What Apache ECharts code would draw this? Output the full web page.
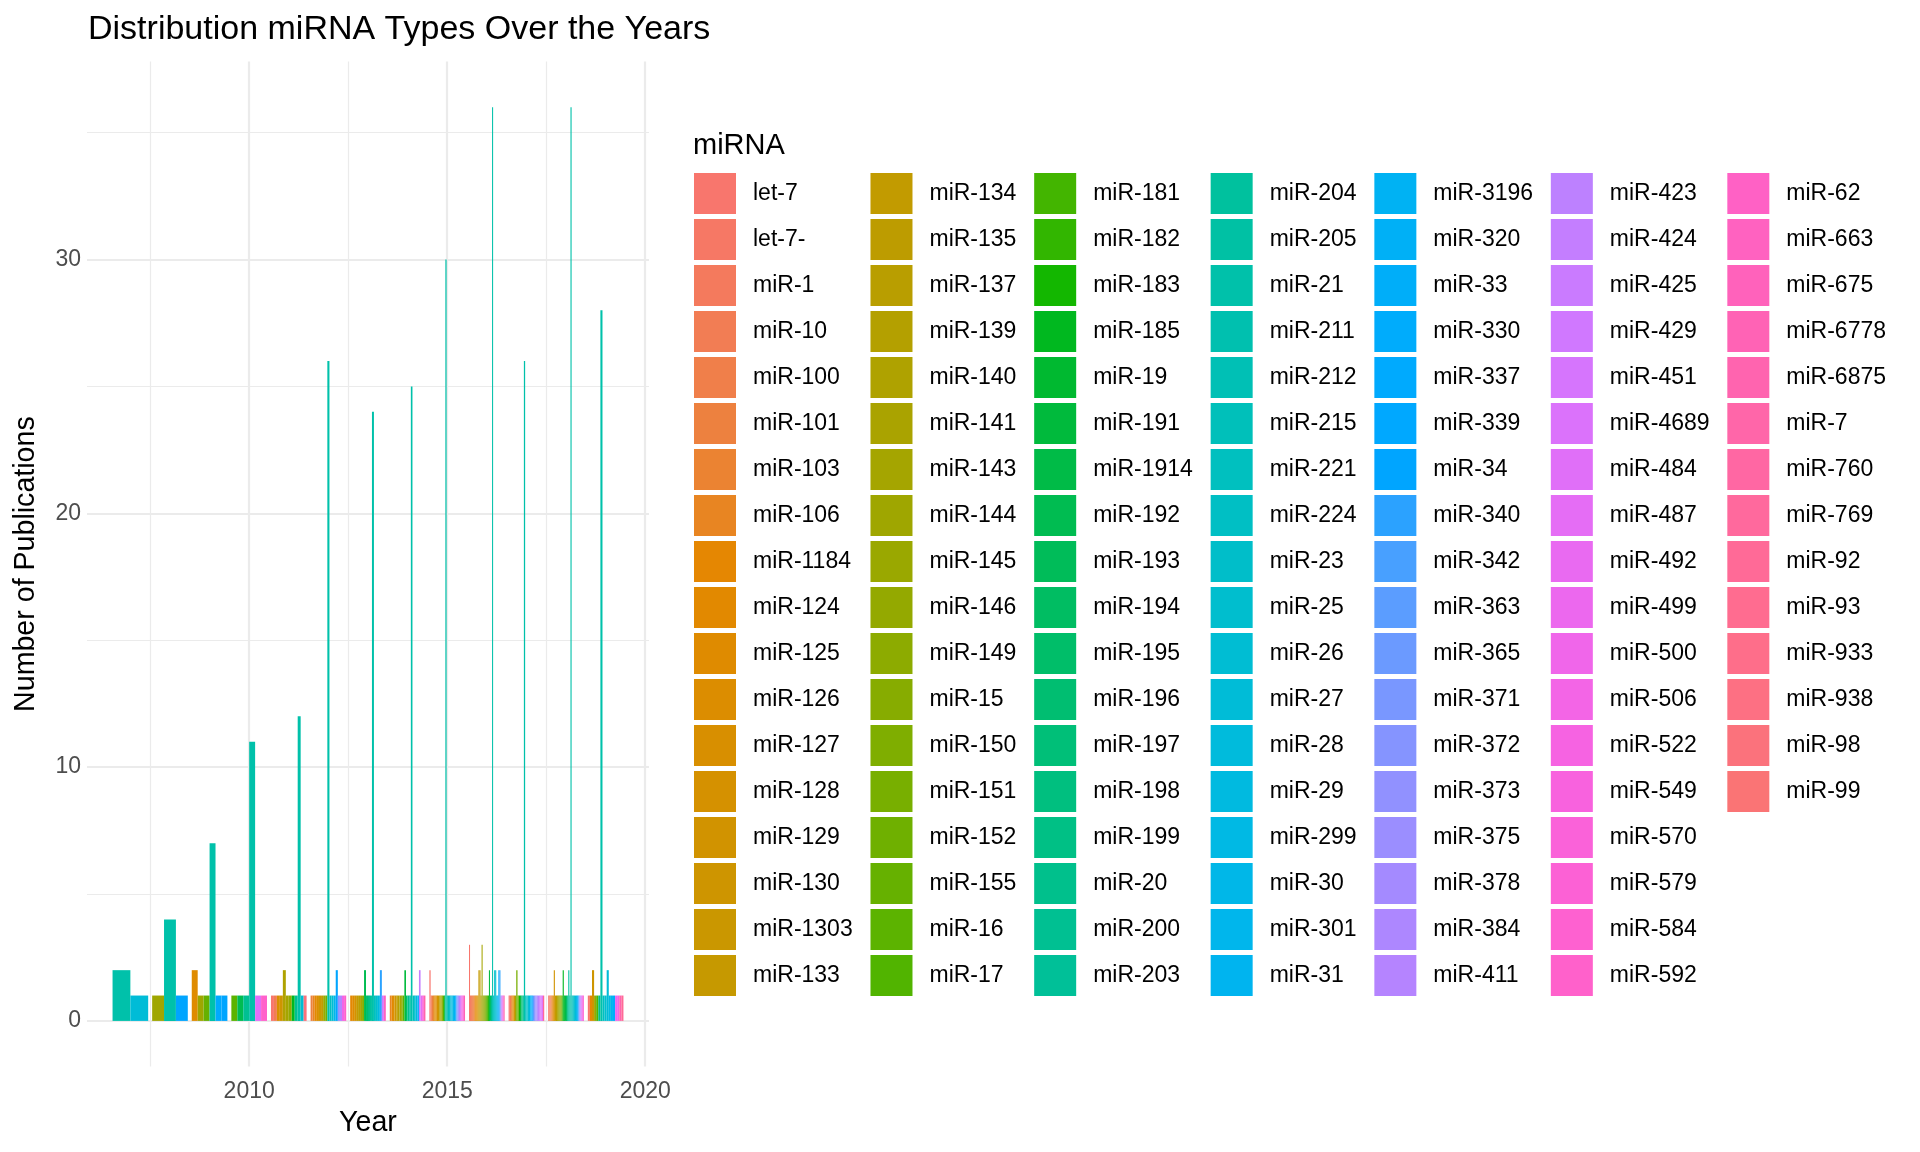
<!DOCTYPE html>
<html>
<head>
<meta charset="utf-8">
<script src="https://cdn.jsdelivr.net/npm/echarts@6/dist/echarts.min.js"></script>
<style>
  body { margin: 0; background: #fff; }
  #chart { width: 1920px; height: 1152px; }
</style>
</head>
<body>
<div id="chart"></div>
<script>
// miRNA levels, in legend order
var levels = [
  'let-7', 'let-7-', 'miR-1', 'miR-10', 'miR-100', 'miR-101', 'miR-103', 'miR-106', 'miR-1184', 'miR-124',
  'miR-125', 'miR-126', 'miR-127', 'miR-128', 'miR-129', 'miR-130', 'miR-1303', 'miR-133',
  'miR-134', 'miR-135', 'miR-137', 'miR-139', 'miR-140', 'miR-141', 'miR-143', 'miR-144', 'miR-145',
  'miR-146', 'miR-149', 'miR-15', 'miR-150', 'miR-151', 'miR-152', 'miR-155', 'miR-16', 'miR-17',
  'miR-181', 'miR-182', 'miR-183', 'miR-185', 'miR-19', 'miR-191', 'miR-1914', 'miR-192', 'miR-193',
  'miR-194', 'miR-195', 'miR-196', 'miR-197', 'miR-198', 'miR-199', 'miR-20', 'miR-200', 'miR-203',
  'miR-204', 'miR-205', 'miR-21', 'miR-211', 'miR-212', 'miR-215', 'miR-221', 'miR-224', 'miR-23',
  'miR-25', 'miR-26', 'miR-27', 'miR-28', 'miR-29', 'miR-299', 'miR-30', 'miR-301', 'miR-31',
  'miR-3196', 'miR-320', 'miR-33', 'miR-330', 'miR-337', 'miR-339', 'miR-34', 'miR-340', 'miR-342',
  'miR-363', 'miR-365', 'miR-371', 'miR-372', 'miR-373', 'miR-375', 'miR-378', 'miR-384', 'miR-411',
  'miR-423', 'miR-424', 'miR-425', 'miR-429', 'miR-451', 'miR-4689', 'miR-484', 'miR-487', 'miR-492',
  'miR-499', 'miR-500', 'miR-506', 'miR-522', 'miR-549', 'miR-570', 'miR-579', 'miR-584', 'miR-592',
  'miR-62', 'miR-663', 'miR-675', 'miR-6778', 'miR-6875', 'miR-7', 'miR-760', 'miR-769', 'miR-92',
  'miR-93', 'miR-933', 'miR-938', 'miR-98', 'miR-99'
];

var years = [2007, 2008, 2009, 2010, 2011, 2012, 2013, 2014, 2015, 2016, 2017, 2018, 2019];

// publications per miRNA, one list per year
var y2007 = [['miR-21', 2], ['miR-27', 1]];
var y2008 = [['miR-144', 1], ['miR-21', 4], ['miR-34', 1]];
var y2009 = [['miR-125', 2], ['miR-144', 1], ['miR-155', 1], ['miR-21', 7], ['miR-337', 1], ['miR-34', 1]];
var y2010 = [['miR-16', 1], ['miR-192', 1], ['miR-200', 1], ['miR-21', 11], ['miR-484', 1], ['miR-592', 1]];
var y2011 = [['let-7', 1], ['miR-10', 1], ['miR-127', 1], ['miR-130', 1], ['miR-140', 2], ['miR-143', 1],
  ['miR-146', 1], ['miR-185', 1], ['miR-200', 1], ['miR-21', 12], ['miR-26', 1], ['miR-98', 1]];
var y2012 = [['miR-101', 1], ['miR-106', 1], ['miR-124', 1], ['miR-127', 1], ['miR-1303', 1], ['miR-134', 1],
  ['miR-145', 1], ['miR-152', 1], ['miR-21', 26], ['miR-221', 1], ['miR-26', 1], ['miR-30', 1], ['miR-34', 2],
  ['miR-373', 1], ['miR-411', 1], ['miR-506', 1], ['miR-592', 1]];
var y2013 = [['miR-1184', 1], ['miR-125', 1], ['miR-128', 1], ['miR-133', 1], ['miR-137', 1], ['miR-143', 1],
  ['miR-15', 1], ['miR-192', 2], ['miR-196', 1], ['miR-199', 1], ['miR-204', 1], ['miR-21', 24], ['miR-221', 1],
  ['miR-25', 1], ['miR-29', 1], ['miR-340', 2], ['miR-429', 1], ['miR-663', 1]];
var y2014 = [['miR-106', 1], ['miR-1184', 1], ['miR-126', 1], ['miR-130', 1], ['miR-134', 1], ['miR-139', 1],
  ['miR-143', 1], ['miR-146', 1], ['miR-16', 1], ['miR-191', 2], ['miR-195', 1], ['miR-200', 1], ['miR-205', 1],
  ['miR-21', 25], ['miR-215', 1], ['miR-25', 1], ['miR-28', 1], ['miR-320', 1], ['miR-424', 2], ['miR-487', 1],
  ['miR-570', 1], ['miR-7', 1]];
var y2015 = [['let-7', 2], ['miR-10', 1], ['miR-101', 1], ['miR-106', 1], ['miR-124', 1], ['miR-126', 1],
  ['miR-128', 1], ['miR-1303', 1], ['miR-137', 1], ['miR-143', 1], ['miR-149', 1], ['miR-17', 1], ['miR-191', 1],
  ['miR-21', 30], ['miR-211', 1], ['miR-221', 1], ['miR-23', 1], ['miR-26', 1], ['miR-29', 1], ['miR-30', 1],
  ['miR-3196', 1], ['miR-33', 1], ['miR-365', 1], ['miR-375', 1], ['miR-423', 1], ['miR-451', 1], ['miR-500', 1],
  ['miR-579', 1], ['miR-6778', 1]];
var y2016 = [['let-7', 3], ['miR-1', 1], ['miR-10', 1], ['miR-100', 1], ['miR-101', 1], ['miR-106', 1],
  ['miR-124', 1], ['miR-125', 1], ['miR-128', 1], ['miR-133', 2], ['miR-134', 2], ['miR-139', 1], ['miR-143', 3],
  ['miR-145', 1], ['miR-149', 1], ['miR-150', 1], ['miR-155', 1], ['miR-17', 1], ['miR-183', 1], ['miR-191', 2],
  ['miR-195', 1], ['miR-200', 1], ['miR-21', 36], ['miR-221', 1], ['miR-23', 2], ['miR-26', 2], ['miR-29', 1],
  ['miR-31', 1], ['miR-33', 2], ['miR-340', 2], ['miR-373', 1], ['miR-451', 1], ['miR-506', 1], ['miR-7', 1]];
var y2017 = [['let-7', 1], ['miR-10', 1], ['miR-103', 1], ['miR-125', 1], ['miR-130', 1], ['miR-143', 1],
  ['miR-151', 2], ['miR-155', 1], ['miR-183', 1], ['miR-191', 1], ['miR-196', 1], ['miR-200', 1], ['miR-21', 26],
  ['miR-215', 1], ['miR-224', 1], ['miR-26', 1], ['miR-29', 1], ['miR-31', 1], ['miR-34', 1], ['miR-363', 1],
  ['miR-372', 1], ['miR-375', 1], ['miR-384', 1], ['miR-423', 1], ['miR-425', 1], ['miR-451', 1], ['miR-484', 1],
  ['miR-92', 1]];
var y2018 = [['let-7-', 1], ['miR-1', 1], ['miR-100', 1], ['miR-106', 1], ['miR-124', 1], ['miR-129', 2],
  ['miR-133', 1], ['miR-137', 1], ['miR-140', 1], ['miR-144', 1], ['miR-146', 1], ['miR-15', 1], ['miR-16', 1],
  ['miR-185', 2], ['miR-19', 1], ['miR-1914', 1], ['miR-194', 1], ['miR-199', 1], ['miR-204', 2], ['miR-205', 1],
  ['miR-21', 36], ['miR-212', 1], ['miR-224', 1], ['miR-25', 1], ['miR-28', 1], ['miR-30', 1], ['miR-320', 1],
  ['miR-342', 1], ['miR-378', 1], ['miR-429', 1], ['miR-499', 1], ['miR-584', 1]];
var y2019 = [['let-7', 1], ['miR-1184', 1], ['miR-130', 2], ['miR-146', 1], ['miR-17', 1], ['miR-199', 1],
  ['miR-21', 28], ['miR-221', 1], ['miR-25', 1], ['miR-27', 2], ['miR-29', 1], ['miR-31', 1], ['miR-33', 1],
  ['miR-492', 1], ['miR-522', 1], ['miR-6875', 1], ['miR-92', 1]];

var yearCounts = [y2007, y2008, y2009, y2010, y2011, y2012, y2013, y2014, y2015, y2016, y2017, y2018, y2019];

var xMajor = [2010, 2015, 2020];
var xMinor = [2007.5, 2012.5, 2017.5];
var yMajor = [0, 10, 20, 30];
var yMinor = [5, 15, 25, 35];

var FONT = '"Liberation Sans", Arial, sans-serif';

// ggplot2 default hue palette (hcl, c = 100, l = 65)
function hcl(h, c, l) {
  var hr = h * Math.PI / 180;
  var U = c * Math.cos(hr), V = c * Math.sin(hr);
  var Y = 100 * (l > 7.999592 ? Math.pow((l + 16) / 116, 3) : l / 903.3);
  var u = U / (13 * l) + 0.1978398;
  var v = V / (13 * l) + 0.4683363;
  var X = 9.0 * Y * u / (4 * v);
  var Z = -X / 3 - 5 * Y + 3 * Y / v;
  function g(t) {
    t = t > 0.00304 ? 1.055 * Math.pow(t, 1 / 2.4) - 0.055 : 12.92 * t;
    return Math.round(255 * Math.max(0, Math.min(1, t)));
  }
  var r = g((3.240479 * X - 1.537150 * Y - 0.498535 * Z) / 100);
  var gg = g((-0.969256 * X + 1.875992 * Y + 0.041556 * Z) / 100);
  var b = g((0.055648 * X - 0.204043 * Y + 1.057311 * Z) / 100);
  return 'rgb(' + r + ',' + gg + ',' + b + ')';
}

var colors = levels.map(function (n, i) {
  return hcl(15 + 360 * i / levels.length, 100, 65);
});

// dodge: each year's bars share 0.9 of a year, in level order
var seriesData = {};
levels.forEach(function (n) { seriesData[n] = []; });
years.forEach(function (yr, k) {
  var rows = yearCounts[k].slice().sort(function (a, b) {
    return levels.indexOf(a[0]) - levels.indexOf(b[0]);
  });
  rows.forEach(function (r, idx) {
    seriesData[r[0]].push([yr, r[1], idx, rows.length]);
  });
});

function renderBar(params, api) {
  var yr = api.value(0), val = api.value(1), idx = api.value(2), n = api.value(3);
  var w = 0.9 / n;
  var x0 = yr - 0.45 + idx * w;
  var p0 = api.coord([x0, val]);
  var p1 = api.coord([x0 + w, 0]);
  return {
    type: 'rect',
    shape: { x: p0[0], y: p0[1], width: p1[0] - p0[0], height: p1[1] - p0[1] },
    style: { fill: api.visual('color') }
  };
}

var series = levels.map(function (n, i) {
  return {
    name: n,
    type: 'custom',
    renderItem: renderBar,
    itemStyle: { color: colors[i] },
    encode: { x: 0, y: 1 },
    data: seriesData[n],
    z: 2
  };
});

var gridLines = [];
xMajor.forEach(function (v) { gridLines.push({ xAxis: v, lineStyle: { width: 2.2 } }); });
xMinor.forEach(function (v) { gridLines.push({ xAxis: v, lineStyle: { width: 1.2 } }); });
yMajor.forEach(function (v) { gridLines.push({ yAxis: v, lineStyle: { width: 2.2 } }); });
yMinor.forEach(function (v) { gridLines.push({ yAxis: v, lineStyle: { width: 1.2 } }); });

series.push({
  name: 'grid',
  type: 'line',
  data: [],
  silent: true,
  z: 0,
  markLine: {
    silent: true,
    symbol: 'none',
    z: 0,
    animation: false,
    label: { show: false },
    emphasis: { disabled: true },
    lineStyle: { color: '#EBEBEB', type: 'solid' },
    data: gridLines
  }
});

var chart = echarts.init(document.getElementById('chart'));
chart.setOption({
  animation: false,
  backgroundColor: '#fff',
  title: [{
    text: 'Distribution miRNA Types Over the Years',
    left: 88,
    top: 13,
    padding: 0,
    textStyle: { fontFamily: FONT, fontSize: 34, fontWeight: 'normal', color: '#000' }
  }, {
    text: 'miRNA',
    left: 693,
    top: 131,
    padding: 0,
    textStyle: { fontFamily: FONT, fontSize: 29, fontWeight: 'normal', color: '#000' }
  }],
  legend: {
    type: 'plain',
    orient: 'vertical',
    left: 694,
    top: 173,
    height: 830,
    padding: 0,
    itemGap: 5,
    itemWidth: 42,
    itemHeight: 41,
    icon: 'rect',
    selectedMode: false,
    data: levels,
    // trailing spaces widen each legend column
    formatter: function (name) { return '{t|' + name + '}{g|  }'; },
    textStyle: {
      fontFamily: FONT,
      fontSize: 23,
      color: '#000',
      rich: {
        t: { fontFamily: FONT, fontSize: 23, color: '#000', padding: [0, 0, 0, 12] },
        g: { fontFamily: FONT, fontSize: 23 }
      }
    }
  },
  grid: {
    left: 87,
    top: 61.6,
    width: 562,
    height: 1005,
    containLabel: false
  },
  xAxis: {
    type: 'value',
    min: 2005.905,
    max: 2020.095,
    name: 'Year',
    nameLocation: 'middle',
    nameGap: 40,
    nameTextStyle: { fontFamily: FONT, fontSize: 28.6, color: '#000' },
    axisLine: { show: false },
    axisTick: { show: false },
    splitLine: { show: false },
    axisLabel: {
      customValues: xMajor,
      formatter: function (v) { return String(v); },
      margin: 14,
      fontFamily: FONT,
      fontSize: 23,
      color: '#4D4D4D'
    }
  },
  yAxis: {
    type: 'value',
    min: -1.8,
    max: 37.8,
    name: 'Number of Publications',
    nameLocation: 'middle',
    nameGap: 46,
    nameTextStyle: { fontFamily: FONT, fontSize: 28.6, color: '#000' },
    axisLine: { show: false },
    axisTick: { show: false },
    splitLine: { show: false },
    axisLabel: {
      customValues: yMajor,
      margin: 6,
      fontFamily: FONT,
      fontSize: 23,
      color: '#4D4D4D'
    }
  },
  series: series
});
</script>
</body>
</html>
